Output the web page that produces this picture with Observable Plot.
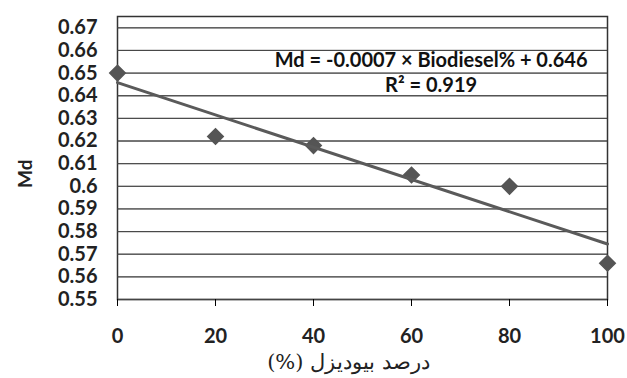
<!DOCTYPE html>
<html><head><meta charset="utf-8">
<script src="https://cdn.jsdelivr.net/npm/d3@7"></script>
<script src="https://cdn.jsdelivr.net/npm/@observablehq/plot@0.6"></script>
<style>body{margin:0;background:#fff}</style>
</head><body><div id="chart"></div>
<script>
const biodiesel = [0, 20, 40, 60, 80, 100];
const md = [0.650, 0.622, 0.618, 0.605, 0.600, 0.566];
const yTicks = [0.55,0.56,0.57,0.58,0.59,0.60,0.61,0.62,0.63,0.64,0.65,0.66,0.67];
const xTicks = [0, 20, 40, 60, 80, 100];
const eqLines = ["Md = -0.0007 × Biodiesel% + 0.646", "R² = 0.919"];
const eqX = [64, 64];
const eqY = [0.6556, 0.6446];
const xLabel = "درصد بیودیزل (%)";
const yLabel = "Md";

const data = biodiesel.map((x, i) => ({x, y: md[i]}));
const eq = eqLines.map((t, i) => ({t, x: eqX[i], y: eqY[i]}));

const chart = Plot.plot({
  width: 627, height: 378,
  marginLeft: 117, marginRight: 20, marginTop: 16, marginBottom: 79,
  style: {fontFamily: "Lato, sans-serif", background: "#fff"},
  x: {domain: [0, 100]},
  y: {domain: [0.55, 0.675]},
  marks: [
    Plot.gridY(yTicks, {stroke: "#8a8a8a", strokeOpacity: 1, strokeWidth: 1.3}),
    Plot.frame({stroke: "#333", strokeWidth: 1.5}),
    Plot.axisY({ticks: yTicks, tickFormat: d => String(+d.toFixed(2)), tickSize: 7, tickPadding: 13,
      fontSize: 20, fontWeight: "bold", fill: "#222", stroke: null, label: null}),
    Plot.tickY(yTicks, {x1: 0, x2: 0, stroke: "#444"}),
    Plot.axisX({ticks: xTicks, tickSize: 7, tickPadding: 22, fontSize: 20, fontWeight: "bold", fill: "#222", label: null}),
    Plot.text(["\u202B" + xLabel + "\u202C"], {frameAnchor: "bottom", dx: -14, dy: 69, fontSize: 21, fontFamily: "DejaVu Serif, serif", fill: "#222"}),
    Plot.text([yLabel], {frameAnchor: "left", dx: -92, dy: 30, rotate: -90, fontSize: 19, fontWeight: "bold", fill: "#222"}),
    Plot.dot(data, {x: "x", y: "y", symbol: "diamond2", r: 7, fill: "#555", stroke: "#555"}),
    Plot.linearRegressionY(data, {x: "x", y: "y", ci: 0, stroke: "#5a5a5a", strokeWidth: 3}),
    Plot.text(eq, {x: "x", y: "y", text: "t", fontSize: 20, fontWeight: "bold", fill: "#111"})
  ]
});
document.getElementById("chart").append(chart);
</script></body></html>
